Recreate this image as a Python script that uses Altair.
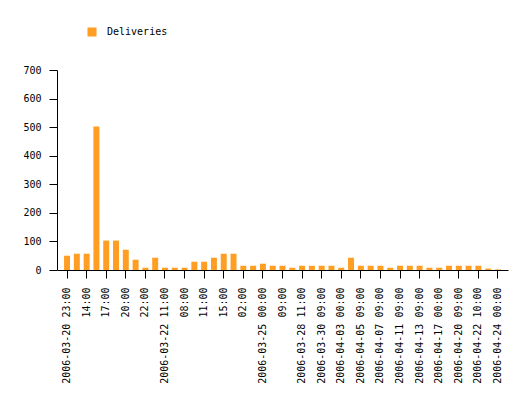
import json
import altair as alt
import pandas as pd

values = [50, 57, 57, 502, 103, 103, 71, 36, 8, 43, 8, 8, 8, 29, 29, 43, 57, 57,
          15, 15, 22, 15, 15, 8, 15, 15, 15, 15, 8, 43, 15, 15, 15, 8, 15, 15,
          15, 8, 8, 15, 15, 15, 15, 5, 2]

tick_labels = ["2006-03-20 23:00", "14:00", "17:00", "20:00", "22:00",
               "2006-03-22 11:00", "08:00", "11:00", "15:00", "02:00",
               "2006-03-25 00:00", "09:00", "2006-03-28 11:00",
               "2006-03-30 09:00", "2006-04-03 00:00", "2006-04-05 09:00",
               "2006-04-07 09:00", "2006-04-11 09:00", "2006-04-13 09:00",
               "2006-04-17 00:00", "2006-04-20 09:00", "2006-04-22 10:00",
               "2006-04-24 00:00"]

series_name = "Deliveries"
bar_color = "#ff9e22"
font = "DejaVu Sans Mono"

df = pd.DataFrame({"i": list(range(len(values))), "v": values, "s": series_name})

tick_positions = list(range(0, len(values), 2))
label_expr = json.dumps(tick_labels) + "[datum.value / 2]"

chart = alt.Chart(df).mark_bar(color=bar_color).encode(
    x=alt.X("i:O",
            scale=alt.Scale(paddingInner=0.39, paddingOuter=0.72),
            axis=alt.Axis(values=tick_positions, labelExpr=label_expr,
                          labelAngle=270, labelAlign="right", labelBaseline="middle",
                          labelFont=font, labelFontSize=10, labelColor="black",
                          labelPadding=9,
                          tickSize=8, tickColor="black", domainColor="black",
                          title=None, labelOverlap=False)),
    y=alt.Y("v:Q",
            scale=alt.Scale(domain=[0, 700], nice=False),
            axis=alt.Axis(values=[0, 100, 200, 300, 400, 500, 600, 700],
                          labelFont=font, labelFontSize=10, labelColor="black",
                          labelPadding=8, tickSize=8, tickColor="black",
                          domainColor="black", grid=False, title=None)),
    color=alt.Color("s:N", scale=alt.Scale(range=[bar_color]),
                    legend=alt.Legend(title=None, orient="none", legendX=30, legendY=-43,
                                      symbolType="square", symbolSize=81,
                                      symbolStrokeWidth=0,
                                      labelFont=font, labelFontSize=10,
                                      labelColor="black", labelOffset=10)),
).properties(
    width=451, height=200,
    autosize=alt.AutoSizeParams(type="none"),
    padding={"left": 49, "top": 62, "right": 10, "bottom": 115},
).configure_view(stroke=None).configure_axis(domainWidth=1, tickWidth=1)

chart.save("out.html", embed_options={"renderer": "svg", "actions": False})
